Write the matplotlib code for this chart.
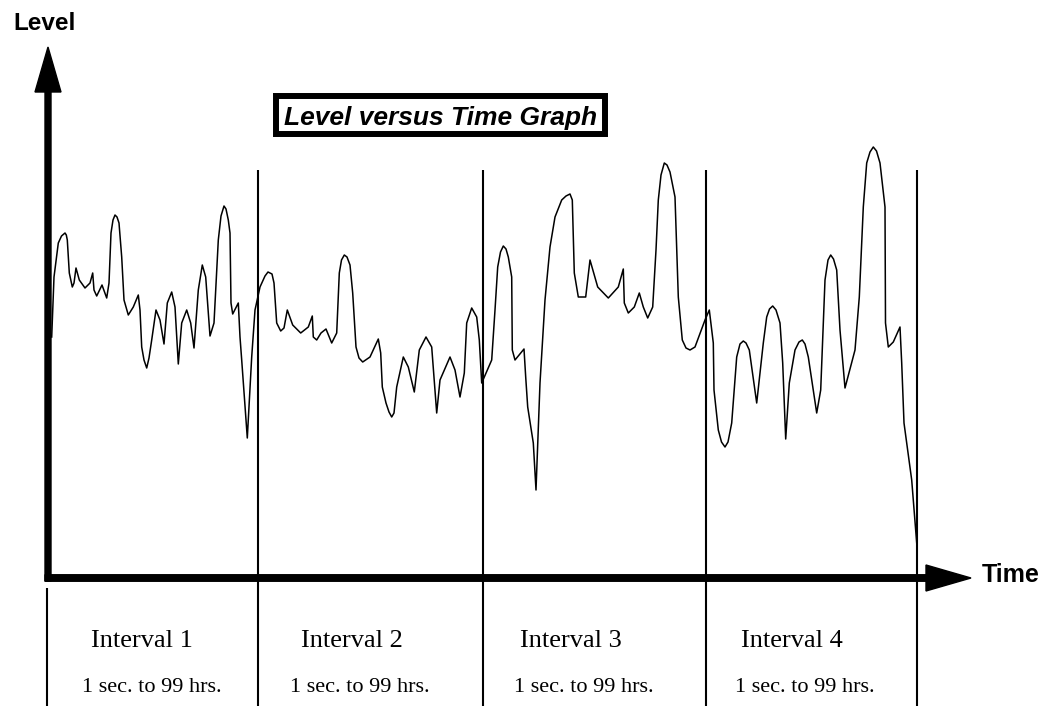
import matplotlib.pyplot as plt
from matplotlib.patches import Rectangle

# level trace, one list pair per interval
# (time along the axis, level above the baseline)
time_1 = [51.7, 54, 58.3, 61.5, 65, 66.3, 67.3, 69.3, 72.3, 74, 76, 79.3, 85, 90, 92.7, 94, 96.7, 102, 106.7,
          109, 111, 113, 115, 117, 119, 121.7, 124, 128.3, 133.3, 138.3, 140, 141.7, 144, 146.7, 149, 151.7, 156,
          160, 164, 167.3, 171.7, 175, 178.3, 181.7, 186.7, 190.7, 194, 198.3, 202.3, 205.7, 210, 214, 218.3, 221,
          224, 226, 228.3, 230, 231, 232.7, 238.3, 240, 241.7, 247.3, 251.7, 255, 260, 265, 268]
level_1 = [241, 301, 335, 342, 345, 343, 338, 305, 291, 295, 310, 298, 290, 295, 305, 288, 282, 293, 280,
           295, 345, 358, 363, 361, 355, 321, 278, 263, 271, 283, 268, 231, 218, 210, 220, 238, 268,
           258, 234, 275, 286, 271, 214, 255, 268, 255, 230, 288, 313, 301, 242, 255, 338, 362,
           372, 369, 358, 345, 275, 264, 275, 241, 218, 140, 221, 268, 291, 302, 306]

time_2 = [272, 274, 276.7, 280.7, 284, 287.3, 292.7, 300.7, 308.3, 312.3, 313.3, 316.7, 321, 326, 331.7, 336.7,
          339.3, 341.5, 344.3, 347, 350, 352.7, 356, 359, 362.7, 370, 378.3, 380.7, 382.3, 386, 389, 391.7, 394,
          396.7, 403.3, 408.3, 414.3, 419.3, 426, 431.7, 436.7, 440, 450, 455, 460, 464.3, 466.7, 471.7, 476.7,
          479.3, 481.7]
level_2 = [304, 295, 255, 247, 250, 268, 253, 245, 251, 262, 241, 238, 245, 249, 235, 245,
           305, 318, 323, 321, 313, 285, 231, 220, 216, 221, 239, 225, 191, 175, 166, 161, 165,
           191, 221, 211, 186, 228, 241, 231, 165, 198, 221, 208, 181, 205, 255, 270, 261,
           238, 195]

time_3 = [491.7, 495, 497.7, 500.5, 503.3, 506, 508.3, 511.7, 512.3, 515, 524, 525.7, 527.7, 533.3, 536, 540,
          545, 550, 555, 561.7, 566, 570, 572.3, 574.3, 578.3, 585.7, 590, 597.7, 608.3, 618.3, 623.3, 624.3,
          628.3, 634.3, 639.3, 643.3, 647.7, 652.7, 656, 658.3, 661, 664.3, 667, 670, 675, 678.3, 682.3, 686,
          690, 695, 705, 709.3]
level_3 = [218, 268, 311, 326, 332, 329, 321, 301, 228, 218, 229, 201, 171, 135, 88, 195,
           278, 331, 361, 378, 382, 384, 378, 305, 281, 281, 318, 291, 280, 291, 309, 275,
           265, 271, 285, 271, 260, 271, 328, 378, 403, 415, 413, 406, 381, 281, 238, 230,
           228, 231, 258, 268]

time_4 = [713.3, 714, 718.3, 721.5, 725, 728, 731.7, 736.7, 740, 743.3, 746, 749.3, 756.7, 763.3, 766.7, 769.5,
          772.7, 776, 780, 782.7, 785.7, 789.3, 795, 799, 802.3, 805, 808.3, 816.7, 820.7, 825, 828, 830.7,
          833.5, 836.7, 840, 845, 855, 859.3, 863.3, 866.7, 870, 873.3, 876.5, 880, 885, 885.5, 888.3, 893.3,
          900, 901.7, 904, 911.7, 916.7]
level_4 = [235, 188, 148, 136, 131, 136, 155, 221, 234, 237, 235, 228, 175, 235, 261, 269,
           272, 268, 255, 215, 139, 195, 228, 236, 238, 234, 221, 165, 188, 298, 318, 323,
           319, 308, 248, 190, 228, 281, 371, 415, 426, 431, 427, 415, 371, 255, 231, 236,
           251, 215, 155, 98, 35]

boundaries = [47, 258, 483, 706, 917]
interval_labels = ["Interval 1", "Interval 2", "Interval 3", "Interval 4"]
range_labels = ["1 sec. to 99 hrs."] * 4
label_x = [142, 352, 571, 792]
range_x = [152, 360, 584, 805]

time = time_1 + time_2 + time_3 + time_4
level = level_1 + level_2 + level_3 + level_4

fig = plt.figure(figsize=(10.47, 7.09), dpi=100)
ax = fig.add_axes([0, 0, 1, 1])
ax.set_xlim(0, 1047)
ax.set_ylim(-131, 578)
ax.axis("off")

# interval separators
for i, b in enumerate(boundaries):
    top = -10 if i == 0 else 408
    ax.plot([b, b], [top, -128], color="black", lw=1.5, solid_capstyle="butt")

ax.plot(time, level, color="black", lw=1.1, solid_joinstyle="round")

# axes arrows
ax.arrow(48, -3, 0, 534, width=6, head_width=26, head_length=45,
         length_includes_head=True, color="black")
ax.arrow(45, 0, 926, 0, width=6.5, head_width=26, head_length=45,
         length_includes_head=True, color="black")

sans = "Liberation Sans"
serif = "Liberation Serif"
ax.text(13, 548, "Level", fontsize=17.5, fontweight="bold", family=sans, va="baseline")
ax.text(982, -4, "Time", fontsize=18, fontweight="bold", family=sans, va="baseline")

ax.add_patch(Rectangle((276, 578 - 134), 329, 38, fill=False, lw=4.3, edgecolor="black"))
ax.text(440.5, 578 - 125, "Level versus Time Graph", fontsize=19, fontweight="bold",
        fontstyle="italic", family=sans, ha="center", va="baseline")

for x, lab in zip(label_x, interval_labels):
    ax.text(x, 578 - 647, lab, fontsize=19, family=serif, ha="center", va="baseline")
for x, lab in zip(range_x, range_labels):
    ax.text(x, 578 - 692, lab, fontsize=16, family=serif, ha="center", va="baseline")

fig.savefig("out.png", dpi=100)
